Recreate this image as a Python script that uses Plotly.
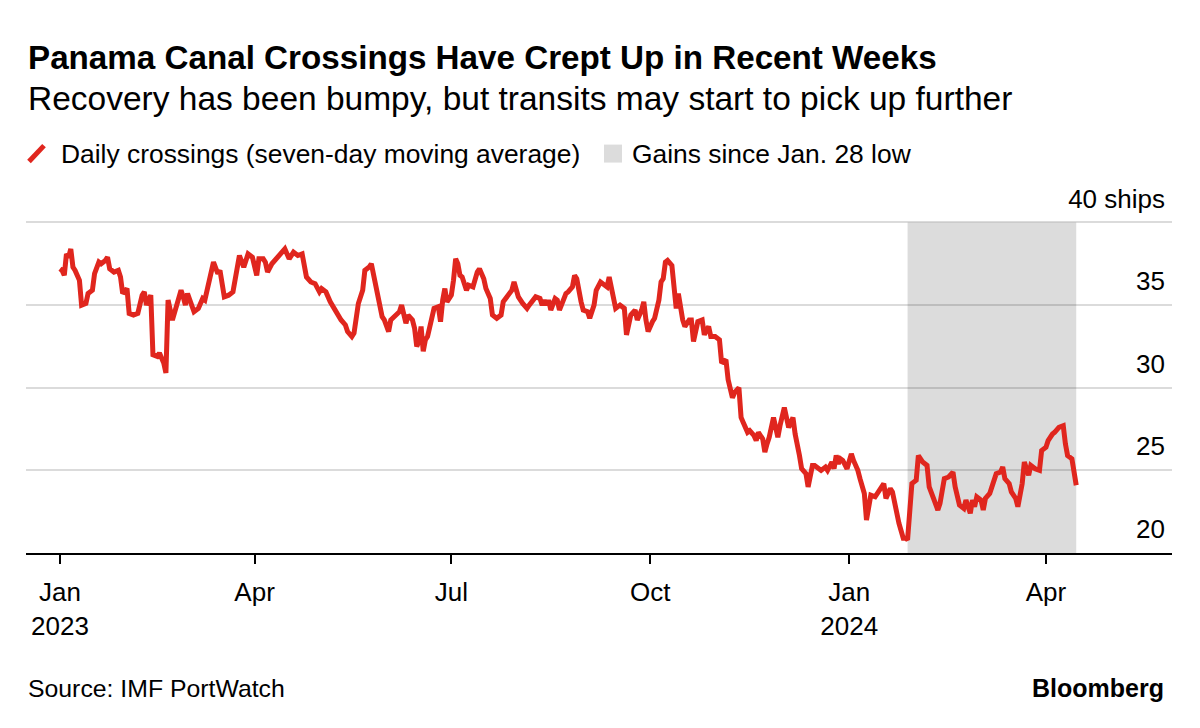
import plotly.graph_objects as go

# ---------------- data ----------------
dates = [
    "2023-01-01","2023-01-02","2023-01-03","2023-01-04","2023-01-05","2023-01-06","2023-01-07","2023-01-08","2023-01-10","2023-01-11",
    "2023-01-13","2023-01-14","2023-01-16","2023-01-17","2023-01-19","2023-01-20","2023-01-22","2023-01-23","2023-01-24","2023-01-26",
    "2023-01-28","2023-01-29","2023-01-30","2023-02-01","2023-02-02","2023-02-04","2023-02-06","2023-02-08","2023-02-09","2023-02-10",
    "2023-02-12","2023-02-13","2023-02-15","2023-02-16","2023-02-18","2023-02-19","2023-02-20","2023-02-21","2023-02-22","2023-02-24",
    "2023-02-26","2023-02-27","2023-02-28","2023-03-01","2023-03-03","2023-03-04","2023-03-06","2023-03-08","2023-03-09","2023-03-11",
    "2023-03-12","2023-03-13","2023-03-15","2023-03-16","2023-03-18","2023-03-20","2023-03-22","2023-03-24","2023-03-25","2023-03-27",
    "2023-03-29","2023-03-31","2023-04-02","2023-04-03","2023-04-05","2023-04-06","2023-04-07","2023-04-09","2023-04-11","2023-04-13",
    "2023-04-15","2023-04-17","2023-04-19","2023-04-21","2023-04-23","2023-04-25","2023-04-27","2023-04-29","2023-05-01","2023-05-02",
    "2023-05-04","2023-05-06","2023-05-08","2023-05-11","2023-05-13","2023-05-14","2023-05-16","2023-05-17","2023-05-19","2023-05-21",
    "2023-05-22","2023-05-24","2023-05-25","2023-05-27","2023-05-28","2023-05-30","2023-05-31","2023-06-02","2023-06-03","2023-06-05",
    "2023-06-07","2023-06-08","2023-06-10","2023-06-11","2023-06-13","2023-06-14","2023-06-15","2023-06-16","2023-06-17","2023-06-18",
    "2023-06-19","2023-06-20","2023-06-22","2023-06-23","2023-06-25","2023-06-26","2023-06-27","2023-06-28","2023-06-29","2023-07-01",
    "2023-07-02","2023-07-03","2023-07-04","2023-07-05","2023-07-06","2023-07-08","2023-07-09","2023-07-11","2023-07-13","2023-07-14",
    "2023-07-16","2023-07-17","2023-07-19","2023-07-20","2023-07-22","2023-07-24","2023-07-25","2023-07-27","2023-07-29","2023-07-30",
    "2023-07-31","2023-08-01","2023-08-03","2023-08-05","2023-08-06","2023-08-08","2023-08-09","2023-08-11","2023-08-12","2023-08-13",
    "2023-08-14","2023-08-15","2023-08-16","2023-08-18","2023-08-19","2023-08-20","2023-08-22","2023-08-23","2023-08-24","2023-08-26",
    "2023-08-27","2023-08-28","2023-08-30","2023-08-31","2023-09-02","2023-09-03","2023-09-05","2023-09-06","2023-09-08","2023-09-09",
    "2023-09-11","2023-09-12","2023-09-14","2023-09-15","2023-09-17","2023-09-19","2023-09-20","2023-09-21","2023-09-22","2023-09-24",
    "2023-09-25","2023-09-27","2023-09-28","2023-09-29","2023-09-30","2023-10-02","2023-10-03","2023-10-05","2023-10-06","2023-10-07",
    "2023-10-08","2023-10-09","2023-10-11","2023-10-12","2023-10-13","2023-10-14","2023-10-15","2023-10-16","2023-10-17","2023-10-19",
    "2023-10-20","2023-10-21","2023-10-22","2023-10-23","2023-10-25","2023-10-26","2023-10-27","2023-10-28","2023-10-29","2023-10-31",
    "2023-11-02","2023-11-03","2023-11-05","2023-11-06","2023-11-08","2023-11-09","2023-11-11","2023-11-12","2023-11-13","2023-11-15",
    "2023-11-16","2023-11-18","2023-11-19","2023-11-20","2023-11-22","2023-11-23","2023-11-24","2023-11-25","2023-11-27","2023-11-28",
    "2023-11-29","2023-11-30","2023-12-02","2023-12-03","2023-12-04","2023-12-06","2023-12-07","2023-12-09","2023-12-10","2023-12-12",
    "2023-12-13","2023-12-15","2023-12-16","2023-12-18","2023-12-19","2023-12-21","2023-12-22","2023-12-24","2023-12-25","2023-12-26",
    "2023-12-27","2023-12-28","2023-12-29","2023-12-31","2024-01-02","2024-01-03","2024-01-05","2024-01-06","2024-01-08","2024-01-09",
    "2024-01-11","2024-01-13","2024-01-14","2024-01-16","2024-01-17","2024-01-18","2024-01-20","2024-01-21","2024-01-23","2024-01-24",
    "2024-01-26","2024-01-27","2024-01-28","2024-01-29","2024-01-30","2024-02-01","2024-02-02","2024-02-03","2024-02-04","2024-02-06",
    "2024-02-07","2024-02-09","2024-02-11","2024-02-12","2024-02-13","2024-02-14","2024-02-16","2024-02-18","2024-02-19","2024-02-21",
    "2024-02-23","2024-02-24","2024-02-26","2024-02-27","2024-02-28","2024-02-29","2024-03-02","2024-03-03","2024-03-04","2024-03-06",
    "2024-03-07","2024-03-09","2024-03-11","2024-03-12","2024-03-13","2024-03-15","2024-03-16","2024-03-18","2024-03-19","2024-03-21",
    "2024-03-22","2024-03-24","2024-03-25","2024-03-27","2024-03-29","2024-03-30","2024-04-01","2024-04-02","2024-04-04","2024-04-05",
    "2024-04-07","2024-04-09","2024-04-10","2024-04-11","2024-04-13","2024-04-14","2024-04-15",
]
crossings = [
    37.2,37.1,36.8,38.1,37.9,38.4,37.3,37.1,36.5,35.0,
    35.1,35.7,35.9,36.9,37.6,37.5,37.7,37.9,37.2,37.0,
    37.1,36.7,35.7,36.0,34.5,34.4,34.5,35.6,35.8,35.0,
    35.6,32.0,31.9,32.1,31.5,30.9,35.3,34.8,34.1,35.0,
    35.9,35.5,35.0,35.7,34.8,34.6,34.8,35.4,35.3,36.5,
    37.1,37.6,36.9,37.1,35.5,35.6,35.8,37.1,38.0,37.3,
    38.1,37.9,36.8,37.8,37.8,37.6,37.0,37.5,37.8,38.0,
    38.4,37.8,38.2,38.0,38.1,36.7,36.4,36.3,35.8,36.0,
    35.8,35.2,34.7,34.1,33.8,33.4,33.1,33.3,35.1,35.9,
    37.1,37.3,37.5,36.3,35.4,34.3,34.1,33.4,34.1,34.4,
    34.6,35.0,33.9,34.4,34.1,33.6,32.5,32.8,33.7,32.2,
    32.9,33.1,34.4,34.8,34.9,34.0,35.3,36.0,35.2,35.6,
    36.5,37.8,37.5,36.8,36.7,35.9,36.2,36.1,37.0,37.2,
    36.6,36.0,35.4,34.4,34.2,34.4,35.2,35.6,35.9,36.4,
    35.9,35.5,35.1,34.8,35.0,35.3,35.5,35.4,35.0,35.3,
    35.0,35.3,34.7,35.4,35.3,34.7,35.3,35.7,35.8,36.1,
    36.8,36.6,35.2,34.7,34.6,34.2,35.0,35.9,36.4,36.3,
    36.1,36.7,35.5,34.8,35.0,34.8,33.2,33.7,34.4,34.7,
    34.1,34.7,35.2,34.1,33.4,34.0,34.2,35.3,36.4,36.6,
    37.6,37.7,37.4,36.1,34.8,35.7,34.7,34.1,33.7,34.1,
    34.1,32.8,33.4,34.0,34.1,33.2,33.5,33.7,33.1,33.1,
    32.9,31.5,31.7,30.5,29.4,29.7,30.0,28.2,27.9,27.3,
    27.4,27.1,26.8,27.3,26.9,26.1,26.6,27.0,28.2,27.4,
    27.0,27.7,28.8,28.2,27.6,28.2,27.2,25.9,25.1,24.8,
    24.0,25.3,25.3,25.1,25.0,25.2,25.0,25.5,25.1,25.9,
    25.4,25.7,25.6,25.1,26.0,25.6,25.0,24.5,23.6,22.0,
    23.5,23.4,23.6,24.1,24.2,23.3,23.9,23.7,22.4,21.8,
    20.9,20.9,20.8,22.3,24.2,24.4,25.9,25.7,25.5,25.3,
    24.0,23.3,22.6,23.0,23.9,24.5,24.6,24.9,24.0,22.9,
    22.7,23.2,22.4,23.2,22.8,23.4,23.2,22.6,23.3,23.6,
    24.0,24.8,24.9,25.2,24.5,24.2,23.7,23.3,22.8,24.2,
    25.5,24.7,25.3,25.1,25.0,26.2,26.4,26.8,27.2,27.3,
    27.6,27.7,26.6,25.9,25.7,24.9,24.1,
]

shade_start = "2024-01-28"
shade_end = "2024-04-15"

x_tick_vals = ["2023-01-01", "2023-04-01", "2023-07-01", "2023-10-01", "2024-01-01", "2024-04-01"]
x_tick_text = ["Jan<br>2023", "Apr", "Jul", "Oct", "Jan<br>2024", "Apr"]
y_tick_vals = [20, 25, 30, 35, 40]
y_tick_text = ["20", "25", "30", "35", "40 ships"]
x_range = ["2022-12-16 07:00", "2024-05-29 07:00"]
Y_MIN, Y_TOP = 20, 40.15          # a little headroom so the 40 gridline is drawn
shade_lo, shade_hi = 20, 40

title = "Panama Canal Crossings Have Crept Up in Recent Weeks"
subtitle = "Recovery has been bumpy, but transits may start to pick up further"
legend_line = "Daily crossings (seven-day moving average)"
legend_shade = "Gains since Jan. 28 low"
source = "Source: IMF PortWatch"
brand = "Bloomberg"

# ---------------- layout geometry (screen pixels) ----------------
RED = "#e0261e"
SHADE = "#dcdcdc"
FONT = "Liberation Sans, Arial, Helvetica, sans-serif"
OFF = 8                      # default page body margin
W, H = 1200 - 2 * OFF, 728 - 2 * OFF
PL_S, PR_S, PB_S = 26, 1172, 553
PX_PER_UNIT = 331 / 20
PT_S = PB_S - (Y_TOP - Y_MIN) * PX_PER_UNIT


def pxx(sx):
    return (sx - PL_S) / (PR_S - PL_S)


def pxy(sy):
    return (PB_S - sy) / (PB_S - PT_S)


fig = go.Figure()
fig.add_trace(go.Scatter(
    x=dates, y=crossings, mode="lines",
    line=dict(color=RED, width=5, shape="linear"),
    hoverinfo="skip", showlegend=False,
))

shapes = [
    dict(type="rect", xref="x", yref="y", x0=shade_start, x1=shade_end,
         y0=shade_lo, y1=shade_hi, fillcolor=SHADE, line=dict(width=0), layer="below"),
    # legend keys
    dict(type="line", xref="paper", yref="paper", x0=pxx(29), y0=pxy(161), x1=pxx(44), y1=pxy(145),
         line=dict(color=RED, width=5)),
    dict(type="rect", xref="paper", yref="paper", x0=pxx(604), y0=pxy(162), x1=pxx(622), y1=pxy(144),
         fillcolor=SHADE, line=dict(width=0)),
]

annotations = [
    dict(text=f"<b>{title}</b>", x=pxx(26), y=pxy(57), font=dict(size=33.2, color="#000")),
    dict(text=subtitle, x=pxx(26), y=pxy(97.5), font=dict(size=33.5, color="#000")),
    dict(text=legend_line, x=pxx(59), y=pxy(153), font=dict(size=26.4, color="#000")),
    dict(text=legend_shade, x=pxx(630), y=pxy(153), font=dict(size=26.4, color="#000")),
    dict(text=source, x=pxx(26), y=pxy(689), font=dict(size=24.8, color="#000")),
    dict(text=f"<b>{brand}</b>", x=pxx(1166), y=pxy(688), xanchor="right", font=dict(size=25, color="#000")),
]
for a in annotations:
    a.setdefault("xanchor", "left")
    a.update(xref="paper", yref="paper", yanchor="middle", showarrow=False)

fig.update_layout(
    width=W, height=H,
    margin=dict(l=PL_S - OFF, r=W - (PR_S - OFF), t=PT_S - OFF, b=H - (PB_S - OFF), pad=0, autoexpand=False),
    paper_bgcolor="white", plot_bgcolor="white",
    font=dict(family=FONT, color="#000", size=26),
    shapes=shapes, annotations=annotations,
    showlegend=False,
    xaxis=dict(
        type="date", range=x_range, tickvals=x_tick_vals, ticktext=x_tick_text,
        showgrid=False, zeroline=False, showline=True, linecolor="#000", linewidth=2,
        ticks="outside", ticklen=9, tickwidth=1.5, tickcolor="#000", ticklabelstandoff=6,
        tickfont=dict(size=26, color="#000"), automargin=False,
    ),
    yaxis=dict(
        range=[Y_MIN, Y_TOP], tickvals=y_tick_vals, ticktext=y_tick_text, side="right",
        showgrid=True, gridcolor="rgba(0,0,0,0.14)", gridwidth=2, zeroline=False, showline=False,
        ticks="", ticklabelposition="inside", ticklabelshift=-24, ticklabelstandoff=4,
        ticklabeloverflow="allow", tickfont=dict(size=26, color="#000"), automargin=False,
    ),
)

fig.write_html("out.html")
